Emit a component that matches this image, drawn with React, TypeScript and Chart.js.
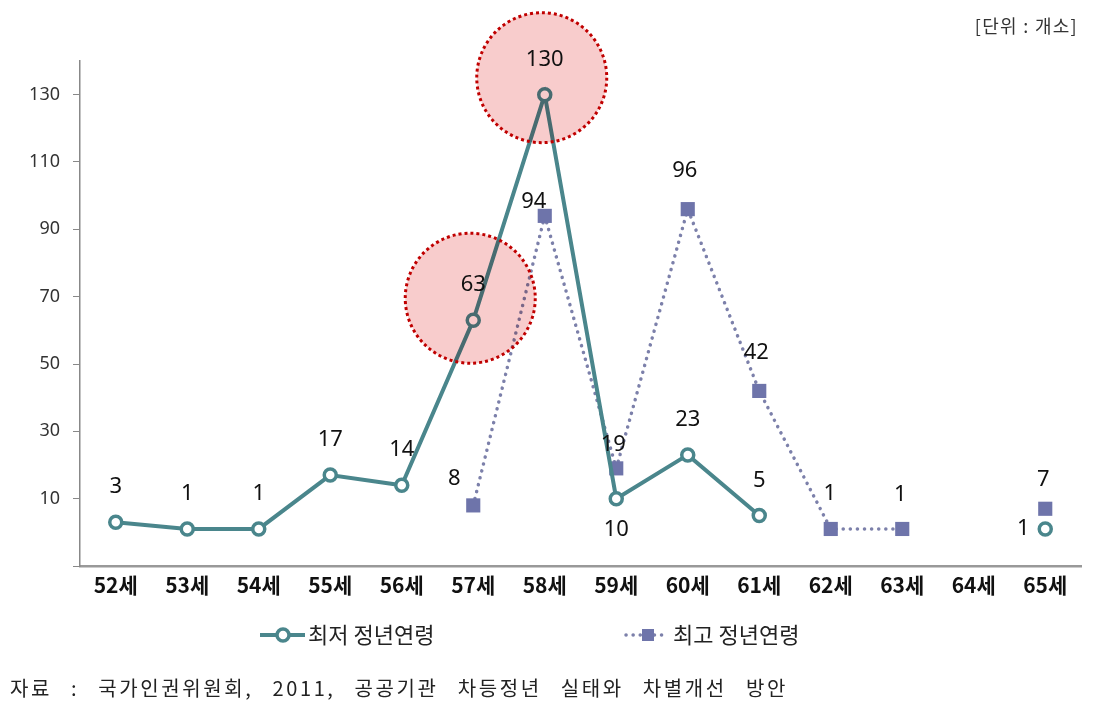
import React, { useEffect, useRef } from "react";
import { Chart, registerables } from "chart.js";

Chart.register(...registerables);

const CATEGORIES = ["52세", "53세", "54세", "55세", "56세", "57세", "58세", "59세", "60세", "61세", "62세", "63세", "64세", "65세"];
const MIN_AGE: (number | null)[] = [3, 1, 1, 17, 14, 63, 130, 10, 23, 5, null, null, null, 1];
const MAX_AGE: (number | null)[] = [null, null, null, null, null, 8, 94, 19, 96, 42, 1, 1, null, 7];
const Y_TICKS = [10, 30, 50, 70, 90, 110, 130];
const HIGHLIGHTED = [5, 6];
const SERIES_NAMES = ["최저 정년연령", "최고 정년연령"];
const UNIT_TEXT = "[단위 : 개소]";
const SOURCE_TEXT = "자료 : 국가인권위원회, 2011, 공공기관 차등정년 실태와 차별개선 방안";

const TEAL = "#4A868C";
const SLATE = "#6E74AA";
const DOT = "#7C80AA";

// label placement (style only): [dx, dy] relative to the point
const MIN_LABEL_OFFSETS: Record<number, [number, number]> = { 7: [0, 31], 13: [-22, 0] };
const MAX_LABEL_OFFSETS: Record<number, [number, number]> = {
  5: [-19, -27], 6: [-11, -14], 7: [-3, -24], 8: [-3, -38], 9: [-3, -38], 10: [-1, -35], 11: [-2, -34], 13: [-2, -29],
};
// highlight circle vertical shift (style only)
const HIGHLIGHT_SHIFT: Record<number, number> = { 5: -22, 6: -17 };

const highlightPlugin = {
  id: "highlight",
  afterDatasetsDraw(chart: any) {
    const ctx = chart.ctx;
    const meta = chart.getDatasetMeta(0);
    ctx.save();
    HIGHLIGHTED.forEach((i) => {
      const el = meta.data[i];
      if (!el) return;
      const cx = el.x - 3;
      const cy = el.y + (HIGHLIGHT_SHIFT[i] || -20);
      ctx.beginPath();
      ctx.arc(cx, cy, 65, 0, Math.PI * 2);
      ctx.globalCompositeOperation = "multiply";
      ctx.fillStyle = "#F8CCCC";
      ctx.fill();
      ctx.globalCompositeOperation = "source-over";
      ctx.setLineDash([3, 3]);
      ctx.lineWidth = 3;
      ctx.strokeStyle = "#C00000";
      ctx.stroke();
    });
    ctx.restore();

    // data labels
    ctx.save();
    ctx.font = '22px "Noto Sans"';
    ctx.fillStyle = "#111";
    ctx.textAlign = "center";
    ctx.textBaseline = "middle";
    [0, 1].forEach((d) => {
      const m = chart.getDatasetMeta(d);
      const data = chart.data.datasets[d].data;
      const offs = d === 0 ? MIN_LABEL_OFFSETS : MAX_LABEL_OFFSETS;
      m.data.forEach((el: any, i: number) => {
        const v = data[i];
        if (v === null || v === undefined) return;
        const o = offs[i] || [0, -35];
        ctx.fillText(String(v), el.x + o[0], el.y + o[1]);
      });
    });
    ctx.restore();

    // legend
    ctx.save();
    const ly = 635;
    ctx.beginPath();
    ctx.moveTo(260, ly);
    ctx.lineTo(305, ly);
    ctx.strokeStyle = TEAL;
    ctx.lineWidth = 4;
    ctx.stroke();
    ctx.beginPath();
    ctx.arc(283, ly, 6, 0, Math.PI * 2);
    ctx.fillStyle = "#fff";
    ctx.fill();
    ctx.lineWidth = 3.5;
    ctx.stroke();

    ctx.beginPath();
    ctx.setLineDash([0.1, 7]);
    ctx.lineCap = "round";
    ctx.moveTo(626, ly);
    ctx.lineTo(668, ly);
    ctx.strokeStyle = DOT;
    ctx.lineWidth = 3.5;
    ctx.stroke();
    ctx.setLineDash([]);
    ctx.fillStyle = SLATE;
    ctx.fillRect(642, ly - 6, 12, 12);

    ctx.font = '22px "Noto Sans CJK KR"';
    ctx.fillStyle = "#222";
    ctx.textAlign = "left";
    ctx.textBaseline = "middle";
    ctx.fillText(SERIES_NAMES[0], 308, ly);
    ctx.fillText(SERIES_NAMES[1], 673, ly);
    ctx.restore();
  },
};

export default function App() {
  const ref = useRef<HTMLCanvasElement | null>(null);
  useEffect(() => {
    if (!ref.current) return;
    const chart = new Chart(ref.current, {
      type: "line",
      data: {
        labels: CATEGORIES,
        datasets: [
          {
            label: SERIES_NAMES[0],
            data: MIN_AGE,
            borderColor: TEAL,
            borderWidth: 4,
            pointStyle: "circle",
            pointRadius: 6,
            pointBorderWidth: 3.5,
            pointBackgroundColor: "#fff",
            pointBorderColor: TEAL,
            spanGaps: false,
            tension: 0,
          },
          {
            label: SERIES_NAMES[1],
            data: MAX_AGE,
            borderColor: DOT,
            borderWidth: 3.5,
            borderDash: [0.1, 7],
            borderCapStyle: "round",
            pointStyle: "rect",
            pointRadius: 10,
            pointBorderWidth: 0,
            pointBackgroundColor: SLATE,
            pointBorderColor: SLATE,
            spanGaps: false,
            tension: 0,
          },
        ],
      },
      options: {
        responsive: false,
        animation: false,
        layout: { padding: { top: 61, right: 30, bottom: 105, left: 0 } },
        plugins: { legend: { display: false }, tooltip: { enabled: false } },
        scales: {
          x: {
            offset: true,
            grid: { display: true, drawOnChartArea: false, drawTicks: false },
            border: { display: true, color: "#999", width: 2.5 },
            ticks: {
              padding: 6,
              color: "#111",
              font: { family: '"Noto Sans CJK KR"', size: 21, weight: "bold" },
              maxRotation: 0,
            },
            afterFit: (s: any) => {
              s.height = 40;
            },
          },
          y: {
            min: -10,
            max: 140,
            grid: { display: true, drawOnChartArea: false, drawTicks: true, tickLength: 7, color: "#888" },
            border: { display: true, color: "#888", width: 1.5 },
            afterBuildTicks: (axis: any) => {
              axis.ticks = [-10, ...Y_TICKS].map((v) => ({ value: v }));
            },
            ticks: {
              padding: 13,
              color: "#333",
              font: { family: '"Noto Sans"', size: 18 },
              callback: (v: any) => (Y_TICKS.includes(Number(v)) ? String(v) : ""),
            },
            afterFit: (s: any) => {
              s.width = 80;
            },
          },
        },
      },
      plugins: [highlightPlugin],
    } as any);
    return () => chart.destroy();
  }, []);

  return (
    <div style={{ position: "absolute", left: 0, top: 0, width: 1111, height: 711, background: "#fff" }}>
      <canvas ref={ref} width={1111} height={711} style={{ position: "absolute", left: 0, top: 0 }} />
      <div
        style={{
          position: "absolute",
          top: 14,
          right: 33,
          font: '18px "Noto Sans CJK KR"',
          lineHeight: "22px",
          letterSpacing: "1.3px",
          color: "#333",
          whiteSpace: "nowrap",
        }}
      >
        {UNIT_TEXT}
      </div>
      <div
        style={{
          position: "absolute",
          top: 675,
          left: 10,
          font: '20px "Noto Sans CJK KR"',
          lineHeight: "26px",
          letterSpacing: "2.6px",
          wordSpacing: "12px",
          color: "#222",
          whiteSpace: "nowrap",
        }}
      >
        {SOURCE_TEXT}
      </div>
    </div>
  );
}
